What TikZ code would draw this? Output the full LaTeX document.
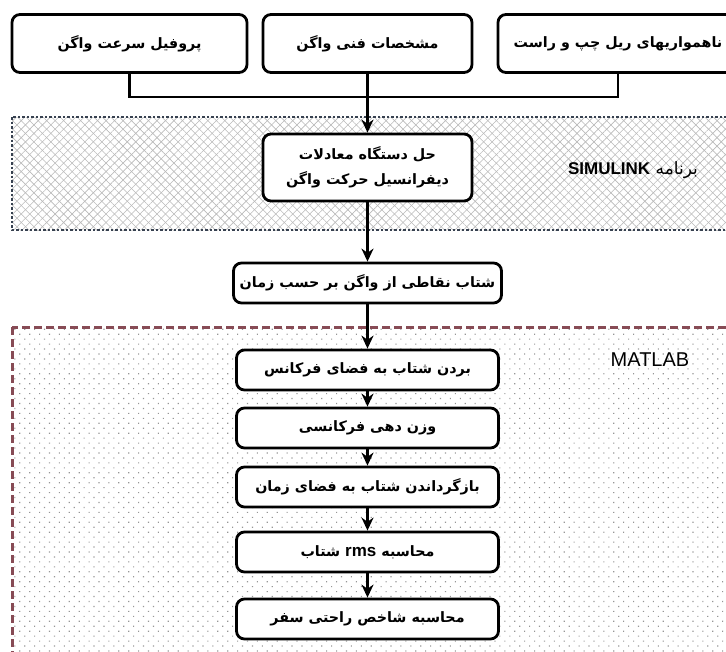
\documentclass[tikz,border=0pt]{standalone}
\usepackage{fontspec}
\newfontfamily\farsi[Script=Arabic]{DejaVu Sans}
\newfontfamily\latin{Liberation Sans}
\TeXXeTstate=1
\usetikzlibrary{arrows.meta,patterns.meta}
\definecolor{simline}{RGB}{55,65,80}
\definecolor{matline}{RGB}{135,75,85}
\definecolor{hatch}{RGB}{185,185,185}
\definecolor{dotc}{RGB}{150,150,150}

\begin{document}
\begin{tikzpicture}[x=1pt,y=-1pt,
    box/.style={draw,line width=2.8pt,rounded corners=8pt,fill=white,
      inner sep=2pt,minimum height=40pt,align=center,
      font=\farsi\bfseries\fontsize{14.3}{25}\selectfont},
    link/.style={line width=2.5pt},
    flow/.style={link,-{Stealth[length=13pt,width=12pt]}},
    tag/.style={font=\latin\fontsize{17}{20}\selectfont}]
  \clip (0,0) rectangle (726,651);

  % SIMULINK band
  \fill[pattern={Lines[angle=45,distance=6pt,line width=0.6pt]},pattern color=hatch]
    (12,117) rectangle (740,230);
  \fill[pattern={Lines[angle=-45,distance=6pt,line width=0.6pt]},pattern color=hatch]
    (12,117) rectangle (740,230);
  \draw[simline,line width=2.5pt,dash pattern=on 2.5pt off 2pt] (12,117) rectangle (740,230);

  % MATLAB band
  \fill[pattern={Dots[angle=45,distance=7pt,radius=0.8pt]},pattern color=dotc]
    (12,327) rectangle (740,670);
  \draw[matline,line width=3pt,dash pattern=on 8pt off 4pt] (12,327) rectangle (740,670);

  % inputs
  \node[box,minimum width=235pt,minimum height=58pt] (profile) at (129.5,43.5)
    {\beginR پروفیل سرعت واگن\endR};
  \node[box,minimum width=209pt,minimum height=58pt] (specs) at (367.5,43.5)
    {\beginR مشخصات فنی واگن\endR};
  \node[box,minimum width=240pt,minimum height=58pt] (rails) at (618,43.5)
    {\beginR ناهمواریهای ریل چپ و راست\endR};

  % SIMULINK part
  \node[box,minimum width=209pt,minimum height=67pt] (solver) at (367.5,167.5)
    {\beginR حل دستگاه معادلات\endR\\\beginR دیفرانسیل حرکت واگن\endR};
  \node[tag] (simtag) at (633,170)
    {\farsi\beginR برنامه \beginL{\latin\bfseries SIMULINK}\endL\endR};

  \node[box,minimum width=268pt] (accel) at (367.5,283)
    {\beginR شتاب نقاطی از واگن بر حسب زمان\endR};

  % MATLAB part
  \node[tag,font=\latin\fontsize{20}{22}\selectfont] (mattag) at (650,360) {MATLAB};
  \node[box,minimum width=262pt] (tofreq) at (367.5,370)
    {\beginR بردن شتاب به فضای فرکانس\endR};
  \node[box,minimum width=262pt] (weight) at (367.5,428)
    {\beginR وزن دهی فرکانسی\endR};
  \node[box,minimum width=262pt] (totime) at (367.5,487)
    {\beginR بازگرداندن شتاب به فضای زمان\endR};
  \node[box,minimum width=262pt] (rms) at (367.5,552)
    {\beginR محاسبه \beginL{\latin\bfseries\fontsize{17}{20}\selectfont rms}\endL{} شتاب\endR};
  \node[box,minimum width=262pt] (comfort) at (367.5,619)
    {\beginR محاسبه شاخص راحتی سفر\endR};

  % connectors
  \coordinate (join) at (367.5,97);
  \draw[link] (profile.south) |- (join);
  \draw[link] (rails.south) |- (join);
  \draw[flow] (specs.south) -- (solver.north);
  \draw[flow] (solver) -- (accel);
  \draw[flow] (accel) -- (tofreq);
  \draw[flow] (tofreq) -- (weight);
  \draw[flow] (weight) -- (totime);
  \draw[flow] (totime) -- (rms);
  \draw[flow] (rms) -- (comfort);
\end{tikzpicture}
\end{document}
